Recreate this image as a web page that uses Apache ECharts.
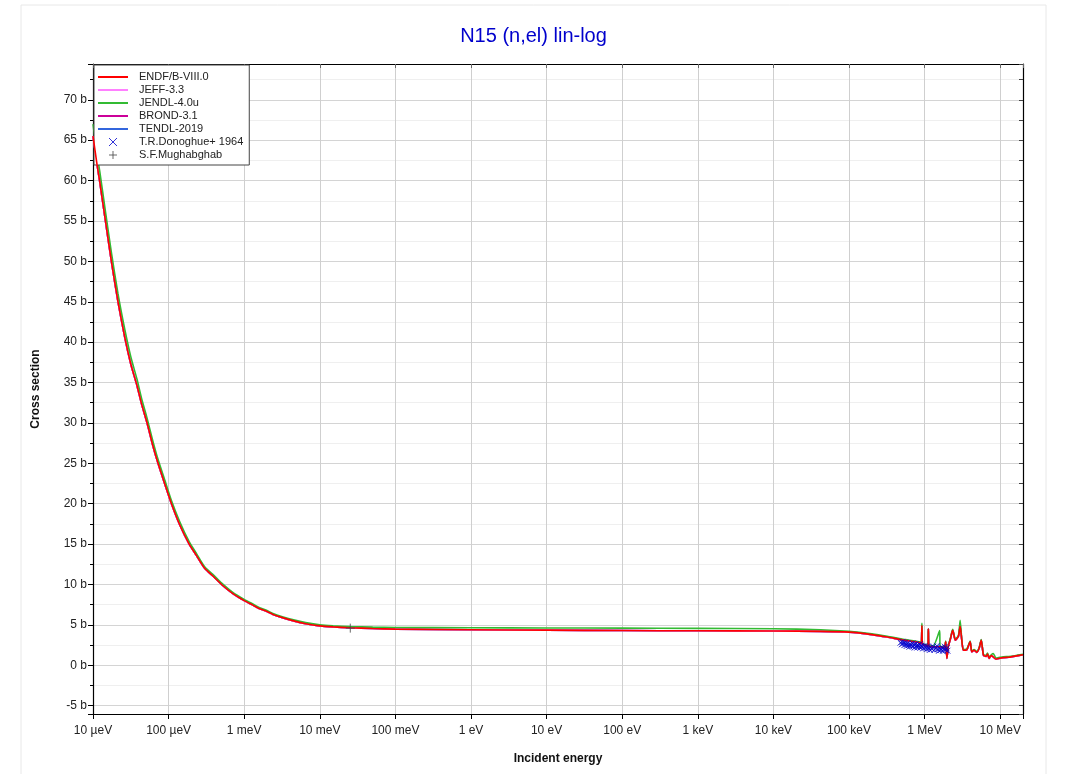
<!DOCTYPE html>
<html>
<head>
<meta charset="utf-8">
<script src="https://cdn.jsdelivr.net/npm/echarts@6/dist/echarts.min.js"></script>
<style>
  html, body { margin: 0; padding: 0; background: #fff; }
  #chart { width: 1067px; height: 774px; }
</style>
</head>
<body>
<div id="chart"></div>
<script>
// energies in eV, cross sections in barns
const endfE = [1e-5, 1.13e-5, 1.23e-5, 1.46e-5, 1.75e-5, 2.14e-5, 2.63e-5, 3.16e-5, 3.82e-5, 4.4e-5, 5.19e-5, 6.1e-5, 7.24e-5, 9e-5, 1.09e-4, 1.4e-4, 1.87e-4, 2.33e-4, 3e-4, 4e-4, 5e-4, 7e-4, 1e-3, 1.3e-3, 1.6e-3, 2e-3, 2.4e-3, 3.2e-3, 4.5e-3, 6.5e-3, 1e-2, 1.5e-2, 2.5e-2, 5e-2, 0.1, 1, 10, 100, 1e3, 1e4, 4.2e4, 1e5, 2e5, 3.2e5, 5e5, 8.7e5, 9.05e5, 9.2e5, 9.35e5, 9.8e5, 1.1e6, 1.12e6, 1.14e6, 1.3e6, 1.58e6, 1.7e6, 1.85e6, 1.9e6, 1.97e6, 2.05e6, 2.2e6, 2.35e6, 2.55e6, 2.8e6, 2.95e6, 3.1e6, 3.25e6, 3.6e6, 4.0e6, 4.2e6, 4.5e6, 4.9e6, 5.3e6, 5.6e6, 6.0e6, 6.5e6, 6.8e6, 7.1e6, 7.6e6, 8.1e6, 8.8e6, 9.5e6, 1.1e7, 1.3e7, 1.5e7, 2e7];
const endfS = [65.5, 62, 59.8, 55, 50, 45, 40.6, 37.3, 34.6, 32.3, 30, 27.4, 25, 22.3, 20, 17.4, 15, 13.6, 12.0, 10.9, 10.0, 8.9, 8.0, 7.45, 7.0, 6.65, 6.3, 5.9, 5.5, 5.15, 4.88, 4.75, 4.65, 4.55, 4.48, 4.4, 4.35, 4.3, 4.27, 4.24, 4.2, 4.1, 3.8, 3.5, 3.15, 2.8, 2.7, 4.9, 2.6, 2.5, 2.4, 4.5, 2.35, 2.3, 2.3, 2.2, 2.3, 2.9, 0.85, 2.3, 3.3, 4.34, 3.1, 3.6, 4.83, 3.1, 1.86, 1.9, 2.9, 1.65, 1.86, 1.6, 2.2, 3.1, 1.24, 1.1, 1.4, 0.85, 1.2, 1.03, 0.75, 0.83, 0.95, 1.0, 1.1, 1.3];

const jendlE = [1e-5, 1.13e-5, 1.23e-5, 1.46e-5, 1.75e-5, 2.14e-5, 2.63e-5, 3.16e-5, 3.82e-5, 4.4e-5, 5.19e-5, 6.1e-5, 7.24e-5, 9e-5, 1.09e-4, 1.4e-4, 1.87e-4, 2.33e-4, 3e-4, 4e-4, 5e-4, 7e-4, 1e-3, 1.3e-3, 1.6e-3, 2e-3, 2.4e-3, 3.2e-3, 4.5e-3, 6.5e-3, 1e-2, 1.5e-2, 2.5e-2, 5e-2, 0.1, 1, 10, 100, 1e3, 1e4, 4.2e4, 1e5, 2e5, 3.2e5, 5e5, 8.7e5, 9.05e5, 9.2e5, 9.35e5, 9.8e5, 1.1e6, 1.12e6, 1.14e6, 1.3e6, 1.58e6, 1.6e6, 1.7e6, 1.85e6, 1.9e6, 1.97e6, 2.05e6, 2.2e6, 2.35e6, 2.55e6, 2.8e6, 2.95e6, 3.1e6, 3.25e6, 3.6e6, 4.0e6, 4.2e6, 4.5e6, 4.9e6, 5.3e6, 5.6e6, 6.0e6, 6.5e6, 6.8e6, 7.1e6, 7.6e6, 8.1e6, 8.8e6, 9.5e6, 1.1e7, 1.3e7, 1.5e7, 2e7];
const jendlS = [67, 63.3, 61.1, 56.2, 51.1, 46, 41.6, 38.2, 35.4, 33, 30.6, 28, 25.5, 22.8, 20.4, 17.8, 15.3, 13.85, 12.2, 11.1, 10.2, 9.05, 8.15, 7.6, 7.12, 6.78, 6.42, 6.02, 5.62, 5.28, 5.0, 4.88, 4.8, 4.72, 4.68, 4.65, 4.62, 4.6, 4.57, 4.52, 4.4, 4.2, 3.9, 3.6, 3.25, 2.9, 2.8, 5.2, 2.7, 2.6, 2.5, 4.5, 2.45, 2.4, 4.3, 2.4, 2.3, 2.4, 3.0, 0.95, 2.4, 3.4, 4.45, 3.2, 3.7, 5.56, 3.2, 1.95, 2.0, 3.0, 1.75, 1.95, 1.7, 2.3, 3.2, 1.35, 1.25, 1.5, 1.0, 1.3, 1.45, 0.9, 0.95, 1.05, 1.08, 1.15, 1.35];

// JEFF-3.3, BROND-3.1, TENDL-2019 lie under the ENDF curve in the plot
const jeffS = endfS;
const brondS = endfS;
const tendlS = endfS;

const donoghueE = [4.8e5, 5.0e5, 5.1e5, 5.2e5, 5.4e5, 5.5e5, 5.7e5, 5.8e5, 6.0e5, 6.2e5, 6.3e5, 6.5e5, 6.7e5, 6.9e5, 7.0e5, 7.2e5, 7.4e5, 7.6e5, 7.8e5, 8.0e5, 8.2e5, 8.4e5, 8.6e5, 8.8e5, 9.0e5, 9.3e5, 9.6e5, 1.0e6, 1.03e6, 1.06e6, 1.1e6, 1.13e6, 1.17e6, 1.2e6, 1.25e6, 1.3e6, 1.35e6, 1.4e6, 1.45e6, 1.5e6, 1.55e6, 1.6e6, 1.65e6, 1.7e6, 1.75e6, 1.8e6, 1.85e6, 1.9e6, 1.95e6, 2.0e6];
const donoghueS = [2.8, 2.6, 2.9, 2.7, 2.5, 2.8, 2.6, 2.4, 2.7, 2.5, 2.3, 2.6, 2.4, 2.7, 2.3, 2.5, 2.2, 2.6, 2.4, 2.2, 2.5, 2.3, 2.6, 2.2, 2.4, 2.3, 2.1, 2.4, 2.2, 2.0, 2.3, 2.1, 1.9, 2.2, 2.0, 2.3, 1.9, 2.1, 2.4, 2.0, 1.8, 2.1, 1.9, 2.2, 1.8, 2.0, 2.3, 1.9, 2.1, 1.8];

const mughabghabE = [0.0253];
const mughabghabS = [4.6];

const xTickValues = [1e-5, 1e-4, 1e-3, 1e-2, 0.1, 1, 10, 100, 1e3, 1e4, 1e5, 1e6, 1e7];
const xTickLabels = ["10 µeV", "100 µeV", "1 meV", "10 meV", "100 meV", "1 eV", "10 eV", "100 eV", "1 keV", "10 keV", "100 keV", "1 MeV", "10 MeV"];

const pairs = (xs, ys) => xs.map((x, i) => [x, ys[i]]);

const FONT = "Liberation Sans, Arial, sans-serif";
const crossPath = "path://M0,0L10,10M10,0L0,10";
const plusPath = "path://M5,0L5,10M0,5L10,5";
const lineIcon = "path://M0,0L30,0L30,2L0,2Z";

function energyLabel(v) {
  const i = xTickValues.findIndex((t) => Math.abs(Math.log10(t) - Math.log10(v)) < 1e-6);
  return i >= 0 ? xTickLabels[i] : "";
}

const chart = echarts.init(document.getElementById("chart"), null, { renderer: "canvas" });

const xBase = {
  type: "log",
  logBase: 10,
  min: 1e-5,
  max: 2e7,
  interval: 1,
  splitNumber: 40,
  axisLine: { show: true, onZero: false, lineStyle: { color: "#000", width: 1.2 } },
};
const yBase = {
  type: "value",
  min: -6.03,
  max: 74.43,
  splitNumber: 16,
  axisLine: { show: true, onZero: false, lineStyle: { color: "#000", width: 1.2 } },
};

const lineSeries = (name, data, color, z) => ({
  name,
  type: "line",
  data,
  symbol: "none",
  showSymbol: false,
  smooth: 0.2,
  z,
  lineStyle: { color, width: 1.6 },
  itemStyle: { color },
});

const option = {
  animation: false,
  backgroundColor: "#fff",
  textStyle: { fontFamily: FONT },
  graphic: [
    {
      type: "rect",
      shape: { x: 21, y: 5, width: 1025, height: 800 },
      style: { fill: "none", stroke: "#e8e8e8", lineWidth: 1 },
      silent: true,
      z: -10,
    },
  ],
  title: {
    text: "N15 (n,el) lin-log",
    left: "center",
    top: 21,
    textStyle: { color: "#0000cc", fontSize: 20, fontWeight: "normal", fontFamily: FONT },
  },
  legend: {
    orient: "vertical",
    left: 94,
    top: 65,
    padding: [6, 6, 4, 4],
    itemGap: 1,
    itemWidth: 30,
    itemHeight: 8,
    backgroundColor: "#fff",
    borderColor: "#444",
    borderWidth: 1,
    textStyle: { fontSize: 11, lineHeight: 12, color: "#222", fontFamily: FONT, padding: [0, 0, 0, 6] },
    data: [
      { name: "ENDF/B-VIII.0", icon: lineIcon },
      { name: "JEFF-3.3", icon: lineIcon },
      { name: "JENDL-4.0u", icon: lineIcon },
      { name: "BROND-3.1", icon: lineIcon },
      { name: "TENDL-2019", icon: lineIcon },
      {
        name: "T.R.Donoghue+ 1964",
        icon: crossPath,
        itemStyle: { color: "rgba(0,0,0,0)", borderColor: "#0000cc", borderWidth: 1 },
      },
      {
        name: "S.F.Mughabghab",
        icon: plusPath,
        itemStyle: { color: "rgba(0,0,0,0)", borderColor: "#444", borderWidth: 1 },
      },
    ],
  },
  grid: { left: 93, right: 44, top: 64, bottom: 60, containLabel: false },
  xAxis: [
    {
      ...xBase,
      position: "bottom",
      name: "Incident energy",
      nameLocation: "middle",
      nameGap: 39,
      nameTextStyle: { fontSize: 12, fontWeight: "bold", color: "#111", fontFamily: FONT },
      axisTick: { show: true, inside: false, length: 5, lineStyle: { color: "#000" } },
      axisLabel: { fontSize: 12, color: "#222", margin: 11, fontFamily: FONT, formatter: energyLabel },
      splitLine: { show: true, lineStyle: { color: "#cfcfcf", width: 1 } },
      minorTick: { show: false },
      minorSplitLine: { show: false },
    },
    {
      ...xBase,
      position: "top",
      axisTick: { show: true, inside: true, length: 4, lineStyle: { color: "#666" } },
      axisLabel: { show: false },
      splitLine: { show: false },
    },
  ],
  yAxis: [
    {
      ...yBase,
      position: "left",
      name: "Cross section",
      nameLocation: "middle",
      nameGap: 51,
      nameTextStyle: { fontSize: 12, fontWeight: "bold", color: "#111", fontFamily: FONT },
      axisTick: { show: true, inside: false, length: 5, lineStyle: { color: "#000" } },
      minorTick: { show: true, splitNumber: 2, length: 3, lineStyle: { color: "#000" } },
      axisLabel: {
        fontSize: 12,
        color: "#222",
        margin: 6,
        fontFamily: FONT,
        formatter: (v) => (Math.abs(v % 5) < 1e-6 ? v + " b" : ""),
      },
      splitLine: { show: true, lineStyle: { color: "#d4d4d4", width: 1 } },
      minorSplitLine: { show: true, lineStyle: { color: "#efefef", width: 1 } },
    },
    {
      ...yBase,
      position: "right",
      axisTick: { show: true, inside: true, length: 4, lineStyle: { color: "#444" } },
      minorTick: { show: true, splitNumber: 2, length: 4, lineStyle: { color: "#444" } },
      axisLabel: { show: false },
      splitLine: { show: false },
    },
  ],
  series: [
    lineSeries("BROND-3.1", pairs(endfE, brondS), "#cc0099", 2),
    lineSeries("TENDL-2019", pairs(endfE, tendlS), "#3366dd", 2),
    lineSeries("JEFF-3.3", pairs(endfE, jeffS), "#ff80ff", 3),
    lineSeries("JENDL-4.0u", pairs(jendlE, jendlS), "#33bb33", 3),
    lineSeries("ENDF/B-VIII.0", pairs(endfE, endfS), "#ff0000", 4),
    {
      name: "T.R.Donoghue+ 1964",
      type: "scatter",
      data: pairs(donoghueE, donoghueS),
      symbol: crossPath,
      symbolSize: 6,
      z: 5,
      itemStyle: { color: "rgba(0,0,0,0)", borderColor: "#0000cc", borderWidth: 1 },
    },
    {
      name: "S.F.Mughabghab",
      type: "scatter",
      data: pairs(mughabghabE, mughabghabS),
      symbol: plusPath,
      symbolSize: 9,
      z: 5,
      itemStyle: { color: "rgba(0,0,0,0)", borderColor: "#444", borderWidth: 1 },
    },
  ],
};

chart.setOption(option);
</script>
</body>
</html>
